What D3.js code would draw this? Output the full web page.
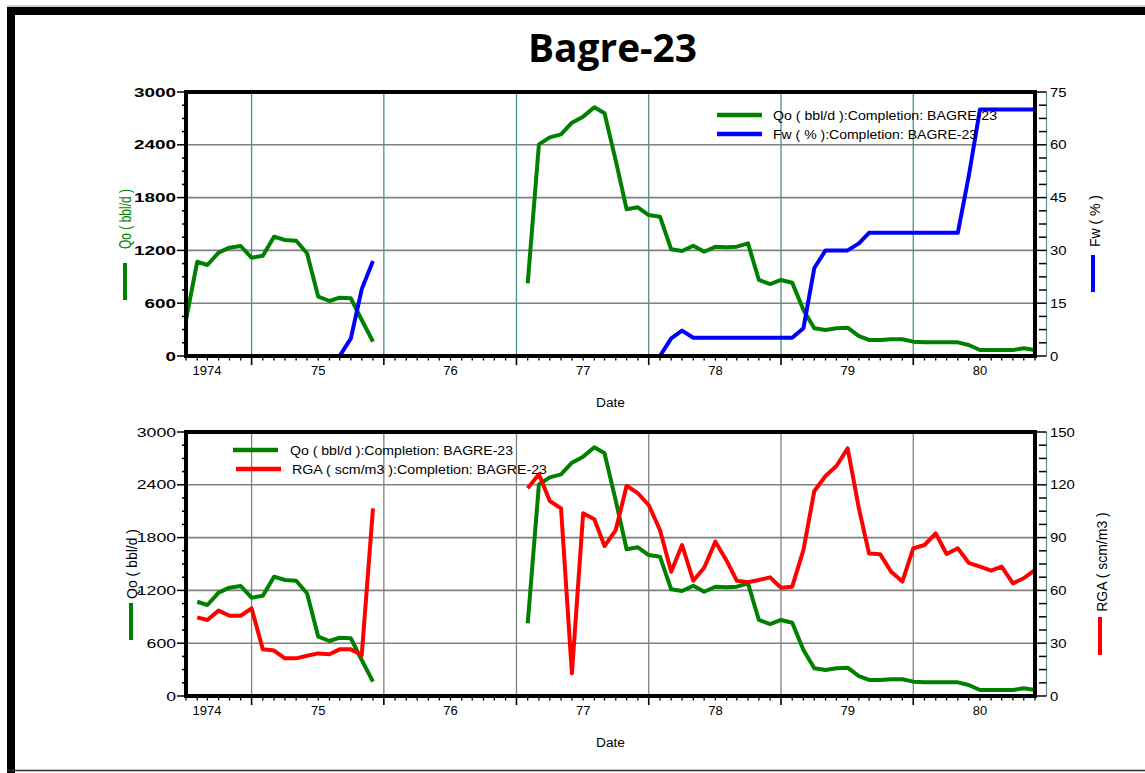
<!DOCTYPE html>
<html><head><meta charset="utf-8">
<script src="https://cdn.jsdelivr.net/npm/d3@7"></script>
<style>body{margin:0;background:#fff}svg{display:block}</style>
</head><body>
<svg id="c" width="1145" height="773"></svg>
<script>
// ---- data (monthly, starting Jan 1974; null = no record) ----
const firstMonth = new Date(1974, 0, 1);
const lastDate = new Date(1980, 5, 1);
const qo = [410,1071,1034,1174,1231,1250,1117,1140,1356,1318,1310,1167,674,625,663,656,409,163,
  null,null,null,null,null,null,null,null,null,null,null,null,null,
  826,2405,2485,2519,2651,2720,2826,2758,2220,1667,1690,1602,1583,1212,1193,1253,1185,1242,1235,1242,1280,
  864,818,864,833,523,315,295,315,322,227,182,182,190,190,163,155,155,155,155,125,68,68,68,68,87,68];
const fw = [0,0,0,0,0,0,0,0,0,0,0,0,0,0,0,5,19,27,
  null,null,null,null,null,null,null,null,null,null,null,null,null,
  0,0,0,0,0,0,0,0,0,0,0,0,0,5,7.2,5.2,5.2,5.2,5.2,5.2,5.2,5.2,5.2,5.2,5.2,
  7.9,25,30,30,30,32,35,35,35,35,35,35,35,35,35,51,70,70,70,70,70,70];
const rga = [null,44.7,43.2,48.5,45.6,45.6,49.8,26.5,25.8,21.4,21.4,22.9,24.2,23.7,26.5,26.5,23.3,106.6,
  null,null,null,null,null,null,null,null,null,null,null,null,null,
  118,126,110.8,106.6,12.9,103.8,100.4,85.2,94.3,119.5,115.2,108.5,94.3,70.6,85.8,65.5,72.9,87.7,76.9,65.5,64.6,65.9,67.4,61.5,62.1,
  83,116.5,125,130.7,140.7,106.6,81,80.5,70.6,65,83.9,85.8,92.4,80.7,83.9,75.7,73.5,71.2,73.5,64,66.9,71.6];
const lowerQoFirstIndex = 1; // lower panel Qo record begins Feb 1974
const qoTicks = [0,600,1200,1800,2400,3000];
const fwTicks = [0,15,30,45,60,75];
const rgaTicks = [0,30,60,90,120,150];
const yearLabels = ["1974","75","76","77","78","79","80"];
const titleText = "Bagre-23";
const legendTop = ["Qo ( bbl/d ):Completion: BAGRE-23","Fw ( % ):Completion: BAGRE-23"];
const legendBottom = ["Qo ( bbl/d ):Completion: BAGRE-23","RGA ( scm/m3 ):Completion: BAGRE-23"];

const GREEN = "#008000", BLUE = "#0000ff", RED = "#ff0000";
const svg = d3.select("#c");
const X0 = 186, X1 = 1035;
const x = d3.scaleTime().domain([firstMonth, lastDate]).range([X0, X1]);
const dateOf = i => d3.timeMonth.offset(firstMonth, i);
const FONT = "'Liberation Sans', Arial, sans-serif";

// outer frame
svg.append("rect").attr("x",7).attr("y",7).attr("width",1138).attr("height",8).attr("fill","#000");
svg.append("rect").attr("x",7).attr("y",7).attr("width",8).attr("height",766).attr("fill","#000");
svg.append("line").attr("x1",7).attr("x2",1145).attr("y1",6).attr("y2",6).attr("stroke","#999").attr("stroke-width",1);
svg.append("line").attr("x1",7).attr("x2",1145).attr("y1",770.5).attr("y2",770.5).attr("stroke","#333").attr("stroke-width",1.5);

// title
svg.append("text").attr("x",612.5).attr("y",62).attr("text-anchor","middle")
  .attr("font-family","'Open Sans', sans-serif").attr("font-weight",700).attr("font-size",40)
  .attr("textLength",169).attr("lengthAdjust","spacingAndGlyphs").text(titleText);

function panel(p){
  const g = svg.append("g");
  const yL = d3.scaleLinear().domain([0,3000]).range([p.bottom,p.top]);
  const yR = d3.scaleLinear().domain([0,p.rTicks[p.rTicks.length-1]]).range([p.bottom,p.top]);
  // horizontal grid
  g.selectAll(null).data(qoTicks.slice(1,-1)).join("line")
    .attr("x1",X0).attr("x2",X1).attr("y1",d=>yL(d)).attr("y2",d=>yL(d))
    .attr("stroke","#808080").attr("stroke-width",1.6);
  // vertical grid at mid-year
  const mids = d3.range(1974,1981).map(y=>new Date(y,6,1)).filter(d=>d<lastDate);
  g.selectAll(null).data(mids).join("line")
    .attr("x1",d=>x(d)).attr("x2",d=>x(d)).attr("y1",p.top).attr("y2",p.bottom)
    .attr("stroke",p.vgrid).attr("stroke-width",1.3);
  // clip
  const cid = "clip"+p.id;
  svg.append("clipPath").attr("id",cid).append("rect").attr("x",X0).attr("y",p.top-2).attr("width",X1-X0).attr("height",p.bottom-p.top+2);
  const lg = g.append("g").attr("clip-path",`url(#${cid})`);
  p.series.forEach(s=>{
    const sc = s.axis==="L"?yL:yR;
    const line = d3.line().defined(d=>d.v!=null).x(d=>x(d.t)).y(d=>sc(d.v));
    const data = s.values.map((v,i)=>({t:dateOf(i), v:(i<(s.from||0))?null:v}));
    lg.append("path").datum(data).attr("d",line).attr("fill","none")
      .attr("stroke",s.color).attr("stroke-width",4).attr("stroke-linejoin","round");
  });
  // plot border
  g.append("rect").attr("x",X0).attr("y",p.top).attr("width",X1-X0).attr("height",p.bottom-p.top)
    .attr("fill","none").attr("stroke","#000").attr("stroke-width",4);
  // left ticks
  g.selectAll(null).data(d3.range(0,3001,150)).join("line")
    .attr("x1",d=>d%600===0?177:182).attr("x2",X0).attr("y1",d=>yL(d)).attr("y2",d=>yL(d))
    .attr("stroke","#000").attr("stroke-width",1.5);
  g.selectAll(null).data(qoTicks).join("text")
    .attr("x",176).attr("y",d=>yL(d)+4.5).attr("text-anchor","end")
    .attr("font-family",FONT).attr("font-size",12).attr("font-weight",p.leftBold?700:400)
    .attr("textLength",d=>String(d).length*p.leftDigitW).attr("lengthAdjust","spacingAndGlyphs")
    .text(d=>d);
  // right axis
  const RX = 1046.5;
  g.append("line").attr("x1",RX).attr("x2",RX).attr("y1",p.top).attr("y2",p.bottom).attr("stroke","#5f8f8f").attr("stroke-width",1.2);
  const rMax = p.rTicks[p.rTicks.length-1];
  g.selectAll(null).data(d3.range(0,21).map(i=>i*rMax/20)).join("line")
    .attr("x1",(d,i)=>i%4===0?1036:1039).attr("x2",RX).attr("y1",d=>yR(d)).attr("y2",d=>yR(d))
    .attr("stroke","#000").attr("stroke-width",1.5);
  g.selectAll(null).data(p.rTicks).join("text")
    .attr("x",1050).attr("y",d=>yR(d)+4.5)
    .attr("font-family",FONT).attr("font-size",12)
    .attr("textLength",d=>String(d).length*8.3).attr("lengthAdjust","spacingAndGlyphs")
    .text(d=>d);
  // bottom ticks
  const monthsAll = d3.timeMonth.range(firstMonth, d3.timeDay.offset(lastDate,1));
  g.selectAll(null).data(monthsAll).join("line")
    .attr("x1",d=>x(d)).attr("x2",d=>x(d)).attr("y1",p.bottom)
    .attr("y2",d=>d.getMonth()===6?p.bottom+9:p.bottom+4.5)
    .attr("stroke","#000").attr("stroke-width",d=>d.getMonth()===6?1.6:1.3);
  g.selectAll(null).data(yearLabels).join("text")
    .attr("x",(d,i)=>x(new Date(1974+i,0,1))+(i===0?21:0)).attr("y",p.bottom+19)
    .attr("text-anchor","middle").attr("font-family",FONT).attr("font-size",13).text(d=>d);
  g.append("text").attr("x",610.5).attr("y",p.bottom+51).attr("text-anchor","middle")
    .attr("font-family",FONT).attr("font-size",12).attr("textLength",29).attr("lengthAdjust","spacingAndGlyphs").text("Date");
  // axis titles with bars
  p.titles.forEach(t=>{
    g.append("text").attr("transform",`translate(${t.x},${t.y}) scale(${t.sx},1) rotate(-90)`)
      .attr("text-anchor","middle").attr("dominant-baseline","central")
      .attr("font-family",FONT).attr("font-size",t.fs).attr("fill",t.fill).text(t.text);
    g.append("line").attr("x1",t.bx).attr("x2",t.bx).attr("y1",t.b0).attr("y2",t.b1)
      .attr("stroke",t.bc).attr("stroke-width",4);
  });
  // legend
  p.legend.forEach(l=>{
    g.append("line").attr("x1",l.lx0).attr("x2",l.lx1).attr("y1",l.ly).attr("y2",l.ly)
      .attr("stroke",l.color).attr("stroke-width",4.5);
    g.append("text").attr("x",l.tx).attr("y",l.ly+4.5).attr("font-family",FONT).attr("font-size",12)
      .attr("textLength",l.tw).attr("lengthAdjust","spacingAndGlyphs").text(l.text);
  });
}

panel({id:1, top:92, bottom:356, vgrid:"#4d8f8f", leftBold:true, leftDigitW:10.5, rTicks:fwTicks,
  series:[{values:qo,color:GREEN,axis:"L"},{values:fw,color:BLUE,axis:"R"}],
  titles:[{text:"Qo ( bbl/d )",x:125,y:219,sx:1.35,fs:12,fill:GREEN,bx:125,b0:263,b1:300,bc:GREEN},
          {text:"Fw ( % )",x:1095,y:221,sx:1.1,fs:14,fill:"#000",bx:1093,b0:255,b1:292,bc:BLUE}],
  legend:[{text:legendTop[0],color:GREEN,lx0:717,lx1:762,ly:115,tx:773,tw:224},
          {text:legendTop[1],color:BLUE,lx0:717,lx1:762,ly:134,tx:773,tw:204}]});

panel({id:2, top:432, bottom:696, vgrid:"#808080", leftBold:false, leftDigitW:9.8, rTicks:rgaTicks,
  series:[{values:qo,color:GREEN,axis:"L",from:lowerQoFirstIndex},{values:rga,color:RED,axis:"R"}],
  titles:[{text:"Qo ( bbl/d )",x:132,y:564,sx:1.1,fs:14,fill:"#000",bx:131,b0:603,b1:640,bc:GREEN},
          {text:"RGA ( scm/m3 )",x:1102,y:562,sx:1.1,fs:14,fill:"#000",bx:1100,b0:617,b1:655,bc:RED}],
  legend:[{text:legendBottom[0],color:GREEN,lx0:233,lx1:278,ly:450,tx:290,tw:223},
          {text:legendBottom[1],color:RED,lx0:236,lx1:281,ly:469,tx:292,tw:255}]});
</script>
</body></html>
